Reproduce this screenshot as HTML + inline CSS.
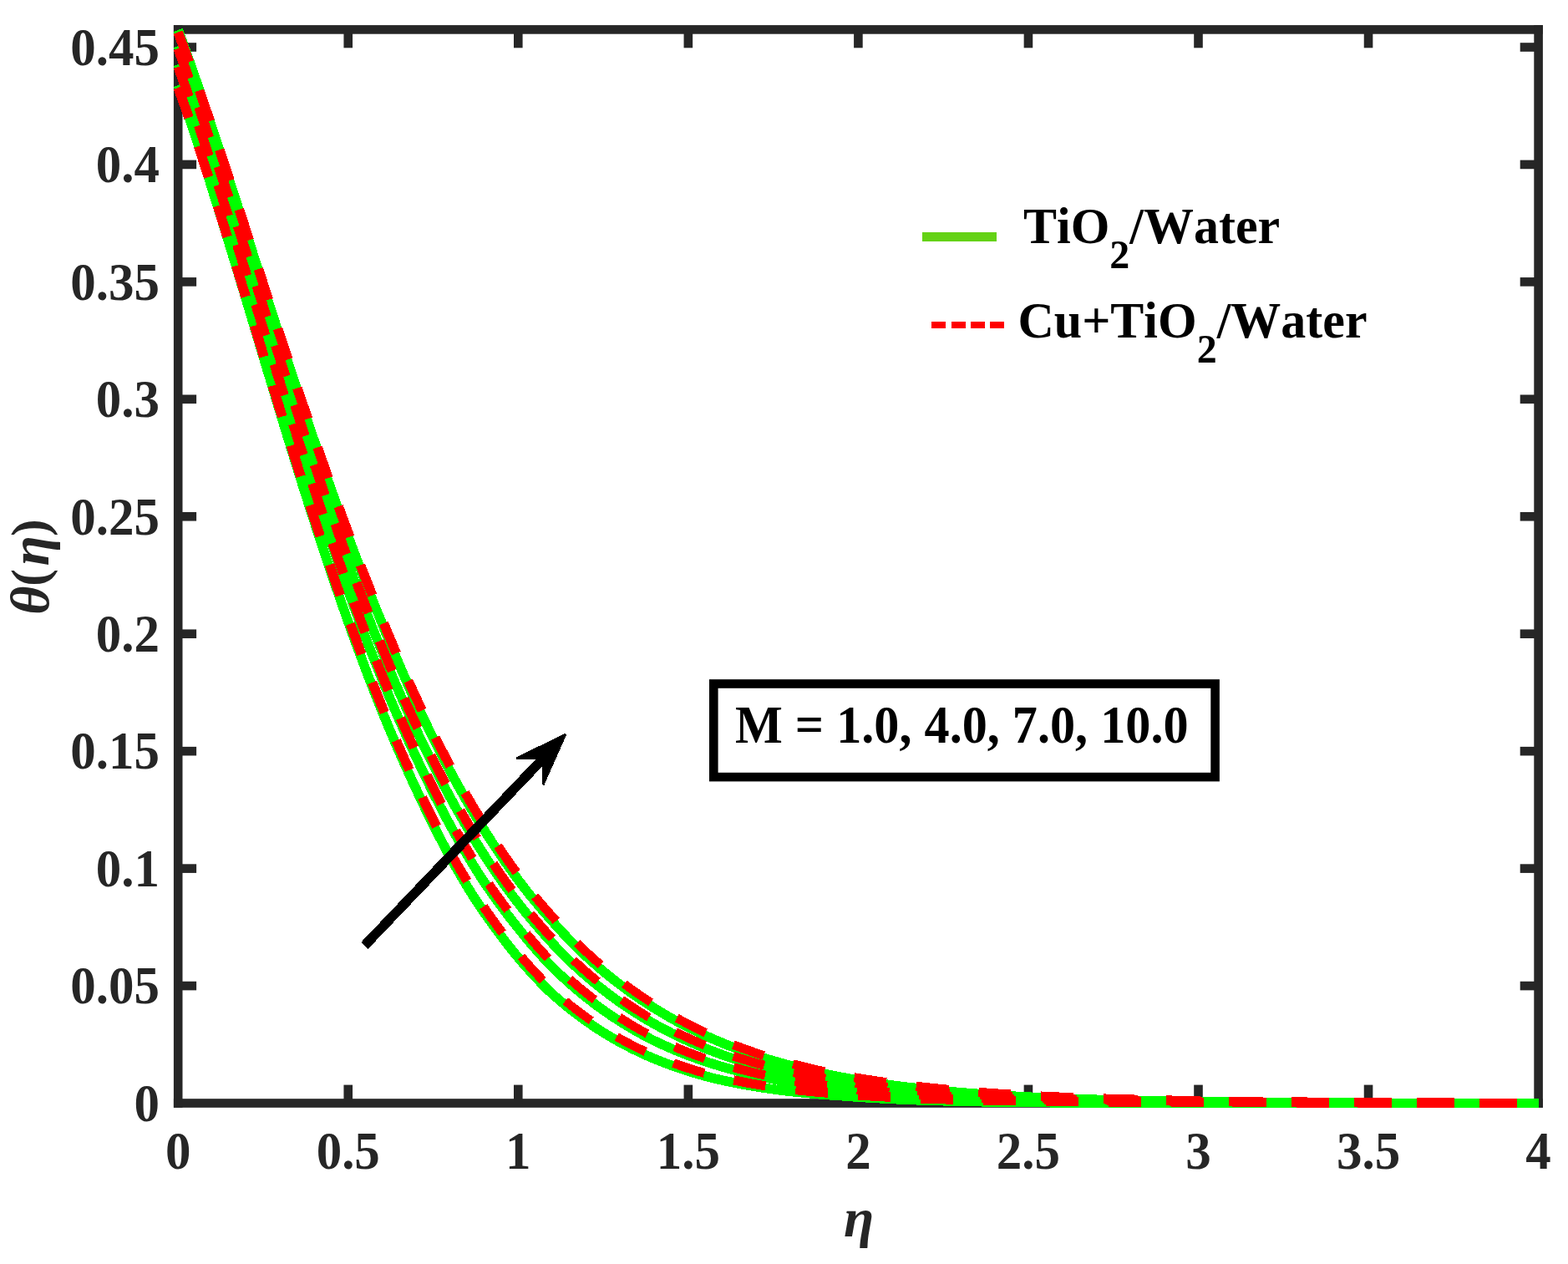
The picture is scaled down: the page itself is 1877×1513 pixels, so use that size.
<!DOCTYPE html>
<html lang="en"><head><meta charset="utf-8"><title>Temperature profile</title>
<style>html,body{margin:0;padding:0;background:#fff;}svg{display:block;}text{font-family:'Liberation Serif', 'Times New Roman', serif;font-weight:bold;font-kerning:none;}</style></head><body>
<svg width="1877" height="1513" viewBox="0 0 1877 1513">
<rect width="1877" height="1513" fill="#fff"/>
<defs><clipPath id="ax"><rect x="208" y="30" width="1639" height="1296"/></clipPath></defs>
<g fill="#262626">
<rect x="207.90" y="30.10" width="1639.00" height="10.60"/>
<rect x="207.90" y="1315.20" width="1639.00" height="10.60"/>
<rect x="207.90" y="30.10" width="10.60" height="1295.70"/>
<rect x="1836.30" y="30.10" width="10.60" height="1295.70"/>
<rect x="411.45" y="1298.60" width="10.60" height="21.90"/>
<rect x="411.45" y="35.40" width="10.60" height="21.90"/>
<rect x="615.00" y="1298.60" width="10.60" height="21.90"/>
<rect x="615.00" y="35.40" width="10.60" height="21.90"/>
<rect x="818.55" y="1298.60" width="10.60" height="21.90"/>
<rect x="818.55" y="35.40" width="10.60" height="21.90"/>
<rect x="1022.10" y="1298.60" width="10.60" height="21.90"/>
<rect x="1022.10" y="35.40" width="10.60" height="21.90"/>
<rect x="1225.65" y="1298.60" width="10.60" height="21.90"/>
<rect x="1225.65" y="35.40" width="10.60" height="21.90"/>
<rect x="1429.20" y="1298.60" width="10.60" height="21.90"/>
<rect x="1429.20" y="35.40" width="10.60" height="21.90"/>
<rect x="1632.75" y="1298.60" width="10.60" height="21.90"/>
<rect x="1632.75" y="35.40" width="10.60" height="21.90"/>
<rect x="213.20" y="1174.76" width="21.90" height="10.60"/>
<rect x="1819.70" y="1174.76" width="21.90" height="10.60"/>
<rect x="213.20" y="1034.31" width="21.90" height="10.60"/>
<rect x="1819.70" y="1034.31" width="21.90" height="10.60"/>
<rect x="213.20" y="893.87" width="21.90" height="10.60"/>
<rect x="1819.70" y="893.87" width="21.90" height="10.60"/>
<rect x="213.20" y="753.42" width="21.90" height="10.60"/>
<rect x="1819.70" y="753.42" width="21.90" height="10.60"/>
<rect x="213.20" y="612.98" width="21.90" height="10.60"/>
<rect x="1819.70" y="612.98" width="21.90" height="10.60"/>
<rect x="213.20" y="472.53" width="21.90" height="10.60"/>
<rect x="1819.70" y="472.53" width="21.90" height="10.60"/>
<rect x="213.20" y="332.09" width="21.90" height="10.60"/>
<rect x="1819.70" y="332.09" width="21.90" height="10.60"/>
<rect x="213.20" y="191.64" width="21.90" height="10.60"/>
<rect x="1819.70" y="191.64" width="21.90" height="10.60"/>
<rect x="213.20" y="51.20" width="21.90" height="10.60"/>
<rect x="1819.70" y="51.20" width="21.90" height="10.60"/>
</g>
<g fill="#262626" font-size="61.00">
<text transform="translate(191.00 1341.80) scale(1 1.045)" text-anchor="end">0</text>
<text transform="translate(191.00 1201.36) scale(1 1.045)" text-anchor="end">0.05</text>
<text transform="translate(191.00 1060.91) scale(1 1.045)" text-anchor="end">0.1</text>
<text transform="translate(191.00 920.47) scale(1 1.045)" text-anchor="end">0.15</text>
<text transform="translate(191.00 780.02) scale(1 1.045)" text-anchor="end">0.2</text>
<text transform="translate(191.00 639.58) scale(1 1.045)" text-anchor="end">0.25</text>
<text transform="translate(191.00 499.13) scale(1 1.045)" text-anchor="end">0.3</text>
<text transform="translate(191.00 358.69) scale(1 1.045)" text-anchor="end">0.35</text>
<text transform="translate(191.00 218.24) scale(1 1.045)" text-anchor="end">0.4</text>
<text transform="translate(191.00 77.80) scale(1 1.045)" text-anchor="end">0.45</text>
<text transform="translate(213.20 1399.00) scale(1 1.045)" text-anchor="middle">0</text>
<text transform="translate(416.75 1399.00) scale(1 1.045)" text-anchor="middle">0.5</text>
<text transform="translate(620.30 1399.00) scale(1 1.045)" text-anchor="middle">1</text>
<text transform="translate(823.85 1399.00) scale(1 1.045)" text-anchor="middle">1.5</text>
<text transform="translate(1027.40 1399.00) scale(1 1.045)" text-anchor="middle">2</text>
<text transform="translate(1230.95 1399.00) scale(1 1.045)" text-anchor="middle">2.5</text>
<text transform="translate(1434.50 1399.00) scale(1 1.045)" text-anchor="middle">3</text>
<text transform="translate(1638.05 1399.00) scale(1 1.045)" text-anchor="middle">3.5</text>
<text transform="translate(1841.60 1399.00) scale(1 1.045)" text-anchor="middle">4</text>
</g>
<text x="1028" y="1479.8" text-anchor="middle" font-size="66" font-style="italic" fill="#262626">η</text>
<text transform="translate(58.1 678) rotate(-90)" font-size="66" fill="#262626"><tspan x="-57.8" y="0" font-style="italic">θ</tspan><tspan x="-23.7" y="-2.6" font-size="62">(</tspan><tspan x="0.8" y="0" font-style="italic">η</tspan><tspan x="35.9" y="-2.6" font-size="62">)</tspan></text>
<g clip-path="url(#ax)" fill="none" shape-rendering="crispEdges">
<path d="M213.20 101.96 L214.61 106.00 L217.23 113.41 L219.85 120.92 L222.47 128.53 L225.09 136.24 L227.71 144.03 L230.34 151.92 L232.96 159.88 L235.58 167.93 L238.20 176.05 L240.81 184.25 L243.43 192.52 L246.05 200.86 L248.67 209.26 L251.29 217.72 L253.91 226.24 L256.62 234.78 L259.34 243.37 L262.05 252.02 L264.77 260.71 L267.48 269.44 L270.19 278.21 L272.91 287.02 L275.62 295.86 L278.34 304.73 L281.05 313.64 L283.76 322.56 L286.48 331.51 L289.19 340.48 L291.91 349.46 L294.62 358.46 L297.33 367.47 L300.05 376.49 L302.76 385.52 L305.48 394.55 L308.19 403.58 L310.90 412.61 L313.62 421.64 L316.33 430.67 L319.05 439.68 L321.76 448.69 L324.47 457.68 L327.19 466.66 L329.90 475.63 L332.62 484.57 L335.33 493.50 L338.04 502.41 L340.76 511.29 L343.47 520.14 L346.19 528.97 L348.90 537.77 L351.61 546.54 L354.33 555.27 L357.04 563.98 L359.76 572.64 L362.47 581.27 L365.18 589.86 L367.90 598.41 L370.61 606.92 L373.33 615.39 L376.04 623.81 L378.75 632.19 L381.47 640.53 L384.18 648.81 L386.90 657.05 L389.61 665.24 L392.32 673.37 L395.04 681.46 L397.75 689.49 L400.47 697.47 L403.18 705.40 L405.89 713.27 L408.61 721.08 L411.32 728.84 L414.04 736.54 L416.75 744.19 L419.46 751.77 L422.18 759.30 L424.89 766.76 L427.61 774.17 L430.32 781.51 L433.03 788.80 L435.75 796.02 L438.46 803.18 L441.18 810.28 L443.89 817.31 L446.60 824.29 L449.32 831.20 L452.03 838.04 L454.75 844.82 L457.46 851.54 L460.17 858.19 L462.89 864.78 L465.60 871.30 L468.32 877.76 L471.03 884.16 L473.74 890.49 L476.46 896.75 L479.17 902.96 L481.89 909.09 L484.60 915.16 L487.31 921.17 L490.03 927.11 L492.74 932.99 L495.46 938.80 L498.17 944.55 L500.81 950.27 L503.44 955.93 L506.08 961.53 L508.72 967.06 L511.35 972.53 L513.99 977.94 L516.63 983.28 L519.27 988.56 L521.91 993.79 L524.55 998.95 L527.19 1004.05 L529.83 1009.09 L532.47 1014.06 L535.11 1018.98 L537.75 1023.84 L540.40 1028.63 L543.05 1033.37 L545.71 1038.05 L548.36 1042.66 L551.01 1047.22 L553.67 1051.73 L556.32 1056.17 L558.98 1060.56 L561.63 1064.89 L564.29 1069.17 L566.96 1073.38 L569.66 1077.52 L572.35 1081.61 L575.05 1085.64 L577.74 1089.62 L580.43 1093.55 L583.13 1097.42 L585.83 1101.24 L588.52 1105.01 L591.22 1108.72 L593.92 1112.39 L596.61 1116.00 L599.29 1119.58 L601.96 1123.12 L604.62 1126.61 L607.28 1130.06 L609.95 1133.45 L612.61 1136.80 L615.28 1140.11 L617.95 1143.36 L620.62 1146.57 L623.29 1149.74 L625.96 1152.86 L628.63 1155.93 L631.30 1158.96 L633.97 1161.95 L636.65 1164.89 L639.32 1167.79 L642.00 1170.65 L644.68 1173.47 L647.36 1176.25 L650.04 1178.98 L652.72 1181.68 L655.40 1184.33 L658.09 1186.95 L660.84 1189.45 L663.59 1191.92 L666.34 1194.34 L669.10 1196.73 L671.85 1199.08 L674.60 1201.39 L677.35 1203.66 L680.10 1205.90 L682.86 1208.10 L685.61 1210.26 L688.36 1212.39 L691.11 1214.49 L693.86 1216.55 L696.61 1218.57 L699.37 1220.56 L702.12 1222.52 L704.87 1224.45 L707.62 1226.34 L710.37 1228.21 L713.12 1230.04 L715.87 1231.84 L718.62 1233.61 L721.37 1235.35 L724.12 1237.05 L726.87 1238.73 L729.62 1240.39 L732.37 1242.01 L735.11 1243.60 L737.86 1245.17 L740.61 1246.71 L743.36 1248.22 L746.10 1249.71 L748.85 1251.16 L751.60 1252.60 L754.34 1254.01 L757.09 1255.39 L759.84 1256.75 L762.58 1258.08 L765.33 1259.39 L768.07 1260.68 L770.82 1261.94 L773.56 1263.17 L776.31 1264.38 L779.06 1265.56 L781.80 1266.73 L784.55 1267.87 L787.29 1269.00 L790.04 1270.10 L792.78 1271.18 L795.53 1272.24 L798.27 1273.28 L801.01 1274.30 L803.75 1275.30 L806.50 1276.28 L809.24 1277.25 L811.98 1278.19 L814.72 1279.12 L817.46 1280.03 L820.20 1280.92 L822.93 1281.79 L825.67 1282.65 L828.41 1283.49 L831.15 1284.32 L833.89 1285.12 L836.62 1285.92 L839.36 1286.69 L842.09 1287.45 L844.83 1288.20 L847.56 1288.93 L850.30 1289.65 L853.03 1290.35 L855.76 1291.04 L858.51 1291.67 L861.25 1292.30 L863.99 1292.91 L866.73 1293.50 L869.47 1294.09 L872.21 1294.66 L874.94 1295.22 L877.68 1295.76 L880.42 1296.29 L883.15 1296.83 L885.88 1297.36 L888.61 1297.87 L891.35 1298.38 L894.08 1298.87 L896.81 1299.35 L899.54 1299.82 L902.26 1300.28 L904.99 1300.73 L907.72 1301.17 L910.45 1301.60 L913.18 1302.02 L915.90 1302.43 L918.63 1302.83 L921.36 1303.22 L924.08 1303.60 L926.81 1303.98 L929.53 1304.34 L932.26 1304.70 L934.98 1305.04 L937.70 1305.38 L940.43 1305.72 L943.15 1306.04 L945.87 1306.35 L948.60 1306.66 L951.32 1306.96 L954.04 1307.26 L956.76 1307.54 L959.48 1307.82 L962.21 1308.09 L964.93 1308.36 L967.65 1308.62 L970.37 1308.87 L973.09 1309.11 L975.81 1309.35 L978.53 1309.59 L981.25 1309.81 L983.96 1310.03 L986.68 1310.25 L989.40 1310.46 L992.12 1310.66 L994.84 1310.86 L997.56 1311.05 L1000.28 1311.24 L1002.99 1311.42 L1005.71 1311.59 L1008.43 1311.79 L1011.14 1312.00 L1013.85 1312.21 L1016.57 1312.42 L1019.28 1312.62 L1021.99 1312.82 L1024.71 1313.01 L1027.42 1313.20 L1030.13 1313.38 L1032.85 1313.56 L1035.56 1313.73 L1038.27 1313.90 L1040.99 1314.07 L1043.70 1314.23 L1046.42 1314.39 L1049.13 1314.55 L1051.84 1314.70 L1054.56 1314.85 L1057.27 1314.99 L1059.98 1315.13 L1062.70 1315.27 L1065.41 1315.40 L1068.12 1315.54 L1070.84 1315.66 L1073.55 1315.79 L1076.27 1315.91 L1078.98 1316.03 L1081.69 1316.15 L1084.41 1316.26 L1087.12 1316.37 L1089.83 1316.48 L1092.55 1316.58 L1095.26 1316.68 L1097.97 1316.78 L1100.69 1316.88 L1103.40 1316.98 L1106.12 1317.07 L1108.83 1317.16 L1111.54 1317.25 L1114.26 1317.33 L1116.97 1317.42 L1119.68 1317.50 L1122.40 1317.58 L1125.11 1317.65 L1127.83 1317.73 L1130.54 1317.80 L1133.25 1317.87 L1135.97 1317.94 L1138.68 1318.01 L1141.40 1318.08 L1144.11 1318.14 L1146.82 1318.20 L1149.54 1318.26 L1152.25 1318.32 L1154.96 1318.38 L1157.68 1318.44 L1160.39 1318.49 L1163.11 1318.54 L1165.82 1318.60 L1168.53 1318.65 L1171.25 1318.69 L1173.96 1318.74 L1176.68 1318.79 L1179.39 1318.83 L1182.10 1318.88 L1184.82 1318.92 L1187.53 1318.96 L1190.24 1319.00 L1192.96 1319.04 L1195.67 1319.08 L1198.39 1319.12 L1201.10 1319.16 L1203.81 1319.20 L1206.53 1319.24 L1209.24 1319.27 L1211.96 1319.31 L1214.67 1319.34 L1217.38 1319.37 L1220.10 1319.41 L1222.81 1319.44 L1225.52 1319.47 L1228.24 1319.50 L1230.95 1319.53 L1233.67 1319.55 L1236.38 1319.58 L1239.09 1319.61 L1241.81 1319.63 L1244.52 1319.66 L1247.24 1319.68 L1249.95 1319.71 L1252.66 1319.73 L1255.38 1319.75 L1258.09 1319.78 L1260.81 1319.80 L1263.52 1319.82 L1266.23 1319.84 L1268.95 1319.86 L1271.66 1319.88 L1274.38 1319.90 L1277.09 1319.91 L1279.80 1319.93 L1282.52 1319.95 L1285.23 1319.97 L1287.94 1319.98 L1290.66 1320.00 L1293.37 1320.01 L1296.09 1320.03 L1298.80 1320.04 L1301.51 1320.06 L1304.23 1320.07 L1306.94 1320.09 L1309.66 1320.10 L1312.37 1320.11 L1315.08 1320.12 L1317.80 1320.14 L1320.51 1320.15 L1323.23 1320.16 L1325.94 1320.17 L1328.65 1320.18 L1331.37 1320.19 L1334.08 1320.20 L1336.80 1320.21 L1339.51 1320.22 L1342.22 1320.23 L1344.94 1320.24 L1347.65 1320.25 L1350.37 1320.26 L1353.08 1320.27 L1355.79 1320.28 L1358.51 1320.29 L1361.22 1320.30 L1363.94 1320.30 L1366.65 1320.31 L1369.36 1320.32 L1372.08 1320.33 L1374.79 1320.34 L1377.51 1320.34 L1380.22 1320.35 L1382.93 1320.36 L1385.65 1320.36 L1388.36 1320.37 L1391.08 1320.38 L1393.79 1320.38 L1396.50 1320.39 L1399.22 1320.40 L1401.93 1320.40 L1404.65 1320.41 L1407.36 1320.41 L1410.07 1320.42 L1412.79 1320.42 L1415.50 1320.43 L1418.22 1320.44 L1420.93 1320.44 L1423.64 1320.45 L1426.36 1320.45 L1429.07 1320.46 L1431.79 1320.46 L1434.50 1320.47 L1437.21 1320.47 L1439.93 1320.47 L1442.64 1320.47 L1445.36 1320.47 L1448.07 1320.47 L1450.78 1320.48 L1453.50 1320.48 L1456.21 1320.48 L1458.93 1320.48 L1461.64 1320.48 L1464.35 1320.48 L1467.07 1320.48 L1469.78 1320.48 L1472.50 1320.48 L1475.21 1320.48 L1477.92 1320.49 L1480.64 1320.49 L1483.35 1320.49 L1486.07 1320.49 L1488.78 1320.49 L1491.49 1320.49 L1494.21 1320.49 L1496.92 1320.49 L1499.64 1320.49 L1502.35 1320.49 L1505.06 1320.49 L1507.78 1320.49 L1510.49 1320.49 L1513.21 1320.49 L1515.92 1320.49 L1518.63 1320.49 L1521.35 1320.49 L1524.06 1320.49 L1526.78 1320.49 L1529.49 1320.49 L1532.20 1320.50 L1534.92 1320.50 L1537.63 1320.50 L1540.35 1320.50 L1543.06 1320.50 L1545.77 1320.50 L1548.49 1320.50 L1551.20 1320.50 L1553.92 1320.50 L1556.63 1320.50 L1559.34 1320.50 L1562.06 1320.50 L1564.77 1320.50 L1567.49 1320.50 L1570.20 1320.50 L1572.91 1320.50 L1575.63 1320.50 L1578.34 1320.50 L1581.06 1320.50 L1583.77 1320.50 L1586.48 1320.50 L1589.20 1320.50 L1591.91 1320.50 L1594.63 1320.50 L1597.34 1320.50 L1600.05 1320.50 L1602.77 1320.50 L1605.48 1320.50 L1608.20 1320.50 L1610.91 1320.50 L1613.62 1320.50 L1616.34 1320.50 L1619.05 1320.50 L1621.77 1320.50 L1624.48 1320.50 L1627.19 1320.50 L1629.91 1320.50 L1632.62 1320.50 L1635.34 1320.50 L1638.05 1320.50 L1640.76 1320.50 L1643.48 1320.50 L1646.19 1320.50 L1648.91 1320.50 L1651.62 1320.50 L1654.33 1320.50 L1657.05 1320.50 L1659.76 1320.50 L1662.48 1320.50 L1665.19 1320.50 L1667.90 1320.50 L1670.62 1320.50 L1673.33 1320.50 L1676.05 1320.50 L1678.76 1320.50 L1681.47 1320.50 L1684.19 1320.50 L1686.90 1320.50 L1689.62 1320.50 L1692.33 1320.50 L1695.04 1320.50 L1697.76 1320.50 L1700.47 1320.50 L1703.19 1320.50 L1705.90 1320.50 L1708.61 1320.50 L1711.33 1320.50 L1714.04 1320.50 L1716.76 1320.50 L1719.47 1320.50 L1722.18 1320.50 L1724.90 1320.50 L1727.61 1320.50 L1730.33 1320.50 L1733.04 1320.50 L1735.75 1320.50 L1738.47 1320.50 L1741.18 1320.50 L1743.90 1320.50 L1746.61 1320.50 L1749.32 1320.50 L1752.04 1320.50 L1754.75 1320.50 L1757.47 1320.50 L1760.18 1320.50 L1762.89 1320.50 L1765.61 1320.50 L1768.32 1320.50 L1771.04 1320.50 L1773.75 1320.50 L1776.46 1320.50 L1779.18 1320.50 L1781.89 1320.50 L1784.61 1320.50 L1787.32 1320.50 L1790.03 1320.50 L1792.75 1320.50 L1795.46 1320.50 L1798.18 1320.50 L1800.89 1320.50 L1803.60 1320.50 L1806.32 1320.50 L1809.03 1320.50 L1811.75 1320.50 L1814.46 1320.50 L1817.17 1320.50 L1819.89 1320.50 L1822.60 1320.50 L1825.32 1320.50 L1828.03 1320.50 L1830.74 1320.50 L1833.46 1320.50 L1836.17 1320.50 L1838.89 1320.50 L1841.60 1320.50" stroke="#00ff00" stroke-width="11.50"/>
<path d="M213.20 77.15 L214.42 80.62 L217.05 88.01 L219.69 95.49 L222.32 103.06 L224.95 110.71 L227.59 118.44 L230.22 126.26 L232.85 134.14 L235.49 142.10 L238.12 150.13 L240.75 158.22 L243.38 166.37 L246.01 174.59 L248.65 182.86 L251.28 191.18 L253.91 199.56 L256.62 207.96 L259.34 216.40 L262.05 224.89 L264.77 233.42 L267.48 241.98 L270.19 250.58 L272.91 259.22 L275.62 267.88 L278.34 276.57 L281.05 285.28 L283.76 294.02 L286.48 302.77 L289.19 311.54 L291.91 320.33 L294.62 329.12 L297.33 337.93 L300.05 346.75 L302.76 355.57 L305.48 364.39 L308.19 373.21 L310.90 382.04 L313.62 390.86 L316.33 399.67 L319.05 408.48 L321.76 417.27 L324.47 426.06 L327.19 434.83 L329.90 443.59 L332.62 452.33 L335.33 461.05 L338.04 469.75 L340.76 478.43 L343.47 487.08 L346.19 495.71 L348.90 504.32 L351.61 512.89 L354.33 521.44 L357.04 529.95 L359.76 538.43 L362.47 546.88 L365.18 555.29 L367.90 563.66 L370.61 572.00 L373.33 580.30 L376.04 588.55 L378.75 596.77 L381.47 604.94 L384.18 613.07 L386.90 621.16 L389.61 629.20 L392.32 637.19 L395.04 645.14 L397.75 653.04 L400.47 660.88 L403.18 668.68 L405.89 676.43 L408.61 684.13 L411.32 691.77 L414.04 699.37 L416.75 706.91 L419.46 714.39 L422.18 721.82 L424.89 729.20 L427.61 736.52 L430.32 743.78 L433.03 750.99 L435.75 758.14 L438.46 765.23 L441.18 772.27 L443.89 779.25 L446.60 786.17 L449.32 793.03 L452.03 799.83 L454.75 806.57 L457.46 813.26 L460.17 819.88 L462.89 826.44 L465.60 832.95 L468.32 839.39 L471.03 845.78 L473.74 852.10 L476.46 858.37 L479.17 864.57 L481.89 870.72 L484.60 876.80 L487.31 882.82 L490.03 888.79 L492.74 894.69 L495.46 900.53 L498.17 906.32 L500.83 912.06 L503.50 917.75 L506.16 923.38 L508.82 928.95 L511.49 934.46 L514.15 939.91 L516.81 945.31 L519.48 950.64 L522.14 955.92 L524.81 961.14 L527.47 966.30 L530.14 971.40 L532.80 976.45 L535.47 981.44 L538.14 986.38 L540.80 991.25 L543.47 996.08 L546.14 1000.84 L548.81 1005.55 L551.47 1010.21 L554.14 1014.81 L556.81 1019.36 L559.48 1023.85 L562.15 1028.29 L564.82 1032.68 L567.49 1037.01 L570.16 1041.29 L572.83 1045.52 L575.50 1049.70 L578.18 1053.82 L580.90 1057.87 L583.62 1061.86 L586.34 1065.80 L589.06 1069.69 L591.78 1073.53 L594.50 1077.32 L597.22 1081.07 L599.94 1084.76 L602.66 1088.41 L605.38 1092.01 L608.10 1095.56 L610.82 1099.06 L613.54 1102.52 L616.26 1105.93 L618.98 1109.29 L621.64 1112.66 L624.30 1115.99 L626.96 1119.28 L629.62 1122.52 L632.29 1125.71 L634.95 1128.87 L637.62 1131.98 L640.28 1135.05 L642.95 1138.09 L645.61 1141.08 L648.28 1144.03 L650.95 1146.94 L653.62 1149.81 L656.29 1152.64 L658.96 1155.44 L661.68 1158.14 L664.41 1160.81 L667.13 1163.44 L669.85 1166.04 L672.57 1168.59 L675.29 1171.11 L678.02 1173.60 L680.74 1176.05 L683.46 1178.46 L686.18 1180.84 L688.91 1183.18 L691.63 1185.49 L694.36 1187.76 L697.08 1190.00 L699.80 1192.21 L702.53 1194.39 L705.25 1196.53 L707.98 1198.65 L710.70 1200.73 L713.43 1202.78 L716.16 1204.80 L718.88 1206.79 L721.61 1208.75 L724.33 1210.67 L727.06 1212.58 L729.79 1214.45 L732.51 1216.29 L735.24 1218.11 L737.97 1219.89 L740.70 1221.65 L743.42 1223.39 L746.15 1225.10 L748.88 1226.78 L751.61 1228.43 L754.33 1230.06 L757.06 1231.66 L759.79 1233.24 L762.52 1234.80 L765.25 1236.33 L767.97 1237.84 L770.70 1239.32 L773.43 1240.78 L776.16 1242.22 L778.89 1243.63 L781.62 1245.02 L784.36 1246.35 L787.11 1247.67 L789.86 1248.95 L792.60 1250.22 L795.35 1251.47 L798.09 1252.70 L800.84 1253.90 L803.58 1255.09 L806.32 1256.25 L809.07 1257.40 L811.81 1258.53 L814.55 1259.63 L817.29 1260.72 L820.03 1261.79 L822.77 1262.85 L825.51 1263.88 L828.25 1264.90 L830.99 1265.90 L833.73 1266.88 L836.47 1267.85 L839.21 1268.80 L841.95 1269.73 L844.68 1270.65 L847.42 1271.55 L850.16 1272.44 L852.89 1273.31 L855.63 1274.16 L858.36 1275.00 L861.10 1275.83 L863.83 1276.64 L866.57 1277.44 L869.30 1278.22 L872.03 1278.99 L874.77 1279.75 L877.50 1280.49 L880.23 1281.22 L882.96 1281.95 L885.69 1282.66 L888.42 1283.37 L891.14 1284.06 L893.87 1284.74 L896.60 1285.40 L899.33 1286.06 L902.05 1286.70 L904.78 1287.33 L907.50 1287.95 L910.23 1288.56 L912.96 1289.16 L915.68 1289.75 L918.41 1290.33 L921.13 1290.90 L923.86 1291.46 L926.58 1292.00 L929.31 1292.54 L932.03 1293.07 L934.75 1293.59 L937.48 1294.10 L940.20 1294.60 L942.92 1295.09 L945.65 1295.57 L948.37 1296.04 L951.09 1296.51 L953.82 1296.96 L956.54 1297.41 L959.26 1297.85 L961.98 1298.28 L964.70 1298.71 L967.42 1299.12 L970.15 1299.53 L972.87 1299.93 L975.59 1300.33 L978.31 1300.71 L981.03 1301.09 L983.75 1301.46 L986.47 1301.83 L989.19 1302.19 L991.91 1302.54 L994.63 1302.88 L997.35 1303.22 L1000.07 1303.55 L1002.79 1303.88 L1005.51 1304.20 L1008.23 1304.51 L1010.95 1304.82 L1013.67 1305.12 L1016.39 1305.42 L1019.11 1305.71 L1021.83 1305.99 L1024.54 1306.27 L1027.26 1306.55 L1029.98 1306.82 L1032.70 1307.09 L1035.41 1307.36 L1038.13 1307.62 L1040.85 1307.88 L1043.57 1308.13 L1046.28 1308.38 L1049.00 1308.62 L1051.72 1308.86 L1054.43 1309.09 L1057.15 1309.32 L1059.87 1309.54 L1062.58 1309.76 L1065.30 1309.98 L1068.02 1310.19 L1070.73 1310.40 L1073.45 1310.60 L1076.17 1310.80 L1078.88 1310.99 L1081.60 1311.19 L1084.32 1311.37 L1087.03 1311.56 L1089.75 1311.74 L1092.46 1311.92 L1095.18 1312.09 L1097.90 1312.26 L1100.61 1312.43 L1103.33 1312.59 L1106.04 1312.75 L1108.76 1312.91 L1111.48 1313.07 L1114.19 1313.22 L1116.91 1313.37 L1119.62 1313.51 L1122.34 1313.65 L1125.05 1313.79 L1127.77 1313.93 L1130.48 1314.07 L1133.20 1314.20 L1135.92 1314.33 L1138.63 1314.45 L1141.35 1314.58 L1144.06 1314.70 L1146.78 1314.82 L1149.49 1314.93 L1152.21 1315.05 L1154.92 1315.16 L1157.64 1315.27 L1160.35 1315.37 L1163.07 1315.48 L1165.78 1315.58 L1168.50 1315.68 L1171.21 1315.78 L1173.93 1315.88 L1176.64 1315.97 L1179.36 1316.06 L1182.07 1316.16 L1184.79 1316.24 L1187.50 1316.33 L1190.22 1316.42 L1192.93 1316.50 L1195.65 1316.58 L1198.36 1316.66 L1201.08 1316.74 L1203.79 1316.81 L1206.51 1316.89 L1209.22 1316.96 L1211.93 1317.03 L1214.65 1317.10 L1217.36 1317.17 L1220.08 1317.24 L1222.79 1317.30 L1225.51 1317.37 L1228.22 1317.43 L1230.94 1317.49 L1233.65 1317.55 L1236.37 1317.62 L1239.08 1317.68 L1241.79 1317.74 L1244.51 1317.80 L1247.22 1317.85 L1249.94 1317.91 L1252.65 1317.96 L1255.37 1318.02 L1258.08 1318.07 L1260.79 1318.12 L1263.51 1318.17 L1266.22 1318.22 L1268.94 1318.27 L1271.65 1318.32 L1274.37 1318.36 L1277.08 1318.41 L1279.79 1318.45 L1282.51 1318.50 L1285.22 1318.54 L1287.94 1318.58 L1290.65 1318.62 L1293.37 1318.66 L1296.08 1318.70 L1298.79 1318.74 L1301.51 1318.77 L1304.22 1318.81 L1306.94 1318.84 L1309.65 1318.88 L1312.37 1318.91 L1315.08 1318.94 L1317.79 1318.98 L1320.51 1319.01 L1323.22 1319.04 L1325.94 1319.07 L1328.65 1319.10 L1331.36 1319.12 L1334.08 1319.15 L1336.79 1319.18 L1339.51 1319.21 L1342.22 1319.23 L1344.94 1319.26 L1347.65 1319.28 L1350.36 1319.31 L1353.08 1319.33 L1355.79 1319.35 L1358.51 1319.37 L1361.22 1319.39 L1363.93 1319.42 L1366.65 1319.44 L1369.36 1319.46 L1372.08 1319.48 L1374.79 1319.49 L1377.50 1319.51 L1380.22 1319.53 L1382.93 1319.55 L1385.65 1319.57 L1388.36 1319.58 L1391.08 1319.60 L1393.79 1319.61 L1396.50 1319.63 L1399.22 1319.64 L1401.93 1319.66 L1404.65 1319.67 L1407.36 1319.68 L1410.07 1319.70 L1412.79 1319.71 L1415.50 1319.72 L1418.22 1319.73 L1420.93 1319.75 L1423.64 1319.76 L1426.36 1319.77 L1429.07 1319.78 L1431.79 1319.79 L1434.50 1319.80 L1437.21 1319.81 L1439.93 1319.83 L1442.64 1319.85 L1445.36 1319.86 L1448.07 1319.88 L1450.78 1319.89 L1453.50 1319.90 L1456.21 1319.92 L1458.93 1319.93 L1461.64 1319.95 L1464.35 1319.96 L1467.07 1319.97 L1469.78 1319.98 L1472.50 1320.00 L1475.21 1320.01 L1477.92 1320.02 L1480.64 1320.03 L1483.35 1320.04 L1486.07 1320.05 L1488.78 1320.06 L1491.49 1320.07 L1494.21 1320.09 L1496.92 1320.10 L1499.64 1320.11 L1502.35 1320.12 L1505.06 1320.12 L1507.78 1320.13 L1510.49 1320.14 L1513.21 1320.15 L1515.92 1320.16 L1518.63 1320.17 L1521.35 1320.18 L1524.06 1320.19 L1526.78 1320.19 L1529.49 1320.20 L1532.20 1320.21 L1534.92 1320.22 L1537.63 1320.22 L1540.35 1320.23 L1543.06 1320.24 L1545.77 1320.24 L1548.49 1320.25 L1551.20 1320.26 L1553.92 1320.26 L1556.63 1320.27 L1559.34 1320.28 L1562.06 1320.28 L1564.77 1320.29 L1567.49 1320.29 L1570.20 1320.30 L1572.91 1320.30 L1575.63 1320.31 L1578.34 1320.32 L1581.06 1320.32 L1583.77 1320.33 L1586.48 1320.33 L1589.20 1320.33 L1591.91 1320.34 L1594.63 1320.34 L1597.34 1320.35 L1600.05 1320.35 L1602.77 1320.36 L1605.48 1320.36 L1608.20 1320.36 L1610.91 1320.37 L1613.62 1320.37 L1616.34 1320.38 L1619.05 1320.38 L1621.77 1320.38 L1624.48 1320.39 L1627.19 1320.39 L1629.91 1320.39 L1632.62 1320.40 L1635.34 1320.40 L1638.05 1320.40 L1640.76 1320.40 L1643.48 1320.41 L1646.19 1320.41 L1648.91 1320.41 L1651.62 1320.42 L1654.33 1320.42 L1657.05 1320.42 L1659.76 1320.42 L1662.48 1320.43 L1665.19 1320.43 L1667.90 1320.43 L1670.62 1320.43 L1673.33 1320.43 L1676.05 1320.44 L1678.76 1320.44 L1681.47 1320.44 L1684.19 1320.44 L1686.90 1320.44 L1689.62 1320.45 L1692.33 1320.45 L1695.04 1320.45 L1697.76 1320.45 L1700.47 1320.45 L1703.19 1320.45 L1705.90 1320.46 L1708.61 1320.46 L1711.33 1320.46 L1714.04 1320.46 L1716.76 1320.46 L1719.47 1320.46 L1722.18 1320.46 L1724.90 1320.47 L1727.61 1320.47 L1730.33 1320.47 L1733.04 1320.47 L1735.75 1320.47 L1738.47 1320.47 L1741.18 1320.47 L1743.90 1320.47 L1746.61 1320.47 L1749.32 1320.47 L1752.04 1320.48 L1754.75 1320.48 L1757.47 1320.48 L1760.18 1320.48 L1762.89 1320.48 L1765.61 1320.48 L1768.32 1320.48 L1771.04 1320.48 L1773.75 1320.48 L1776.46 1320.48 L1779.18 1320.48 L1781.89 1320.48 L1784.61 1320.48 L1787.32 1320.48 L1790.03 1320.49 L1792.75 1320.49 L1795.46 1320.49 L1798.18 1320.49 L1800.89 1320.49 L1803.60 1320.49 L1806.32 1320.49 L1809.03 1320.49 L1811.75 1320.49 L1814.46 1320.49 L1817.17 1320.49 L1819.89 1320.49 L1822.60 1320.49 L1825.32 1320.49 L1828.03 1320.49 L1830.74 1320.49 L1833.46 1320.49 L1836.17 1320.49 L1838.89 1320.49 L1841.60 1320.49" stroke="#00ff00" stroke-width="11.50"/>
<path d="M213.20 55.20 L214.42 58.65 L217.05 66.03 L219.69 73.49 L222.32 81.03 L224.95 88.64 L227.59 96.32 L230.22 104.08 L232.85 111.90 L235.49 119.78 L238.12 127.73 L240.75 135.73 L243.38 143.79 L246.01 151.91 L248.65 160.07 L251.28 168.28 L253.91 176.54 L256.62 184.81 L259.34 193.13 L262.05 201.48 L264.77 209.87 L267.48 218.29 L270.19 226.74 L272.91 235.22 L275.62 243.73 L278.34 252.26 L281.05 260.81 L283.76 269.38 L286.48 277.97 L289.19 286.57 L291.91 295.18 L294.62 303.80 L297.33 312.44 L300.05 321.07 L302.76 329.72 L305.48 338.36 L308.19 347.01 L310.90 355.65 L313.62 364.29 L316.33 372.92 L319.05 381.54 L321.76 390.16 L324.47 398.77 L327.19 407.36 L329.90 415.94 L332.62 424.50 L335.33 433.04 L338.04 441.57 L340.76 450.07 L343.47 458.55 L346.19 467.01 L348.90 475.45 L351.61 483.86 L354.33 492.23 L357.04 500.59 L359.76 508.91 L362.47 517.19 L365.18 525.45 L367.90 533.67 L370.61 541.86 L373.33 550.01 L376.04 558.12 L378.75 566.20 L381.47 574.23 L384.18 582.23 L386.90 590.18 L389.61 598.10 L392.32 605.97 L395.04 613.79 L397.75 621.57 L400.47 629.31 L403.18 637.00 L405.89 644.64 L408.61 652.24 L411.32 659.78 L414.04 667.28 L416.75 674.73 L419.46 682.13 L422.18 689.48 L424.89 696.78 L427.61 704.02 L430.32 711.22 L433.03 718.36 L435.75 725.45 L438.46 732.48 L441.18 739.47 L443.89 746.39 L446.60 753.27 L449.32 760.09 L452.03 766.85 L454.75 773.56 L457.46 780.22 L460.17 786.82 L462.89 793.36 L465.60 799.85 L468.32 806.28 L471.03 812.66 L473.74 818.98 L476.46 825.24 L479.17 831.45 L481.89 837.60 L484.60 843.69 L487.31 849.73 L490.03 855.71 L492.74 861.64 L495.46 867.51 L498.17 873.32 L500.86 879.08 L503.56 884.79 L506.25 890.45 L508.95 896.05 L511.64 901.59 L514.34 907.07 L517.03 912.51 L519.73 917.88 L522.43 923.20 L525.12 928.47 L527.82 933.68 L530.51 938.84 L533.21 943.94 L535.90 948.99 L538.60 953.98 L541.30 958.92 L543.99 963.81 L546.69 968.65 L549.38 973.43 L552.08 978.16 L554.78 982.83 L557.47 987.46 L560.17 992.03 L562.87 996.55 L565.57 1001.02 L568.26 1005.44 L570.96 1009.81 L573.66 1014.13 L576.36 1018.40 L579.05 1022.62 L581.75 1026.79 L584.45 1030.91 L587.15 1034.99 L589.85 1039.01 L592.55 1042.99 L595.24 1046.92 L597.94 1050.80 L600.65 1054.64 L603.36 1058.42 L606.07 1062.15 L608.78 1065.85 L611.49 1069.49 L614.21 1073.09 L616.92 1076.65 L619.63 1080.16 L622.34 1083.62 L625.05 1087.05 L627.77 1090.43 L630.48 1093.77 L633.19 1097.06 L635.90 1100.32 L638.62 1103.53 L641.32 1106.71 L644.00 1109.87 L646.69 1112.98 L649.38 1116.05 L652.07 1119.09 L654.76 1122.08 L657.45 1125.04 L660.14 1127.96 L662.83 1130.84 L665.52 1133.69 L668.21 1136.49 L670.90 1139.26 L673.60 1142.00 L676.29 1144.70 L678.98 1147.36 L681.68 1149.98 L684.40 1152.55 L687.11 1155.09 L689.82 1157.60 L692.54 1160.07 L695.25 1162.51 L697.96 1164.92 L700.68 1167.29 L703.39 1169.63 L706.10 1171.94 L708.82 1174.22 L711.53 1176.46 L714.25 1178.68 L716.96 1180.86 L719.67 1183.02 L722.39 1185.14 L725.11 1187.24 L727.82 1189.31 L730.54 1191.34 L733.25 1193.35 L735.97 1195.33 L738.68 1197.29 L741.40 1199.21 L744.12 1201.11 L746.83 1202.99 L749.55 1204.83 L752.27 1206.65 L754.98 1208.45 L757.70 1210.21 L760.42 1211.96 L763.13 1213.68 L765.85 1215.37 L768.57 1217.04 L771.29 1218.69 L774.01 1220.31 L776.72 1221.91 L779.44 1223.49 L782.16 1225.04 L784.88 1226.57 L787.60 1228.07 L790.32 1229.56 L793.04 1231.02 L795.77 1232.46 L798.49 1233.88 L801.21 1235.27 L803.93 1236.65 L806.65 1238.01 L809.37 1239.35 L812.09 1240.67 L814.81 1241.96 L817.54 1243.24 L820.26 1244.50 L822.98 1245.75 L825.70 1246.97 L828.42 1248.18 L831.14 1249.36 L833.86 1250.53 L836.59 1251.69 L839.31 1252.82 L842.03 1253.94 L844.75 1255.04 L847.47 1256.13 L850.19 1257.20 L852.92 1258.25 L855.64 1259.29 L858.36 1260.31 L861.08 1261.32 L863.80 1262.31 L866.52 1263.29 L869.24 1264.25 L871.97 1265.19 L874.69 1266.13 L877.41 1267.05 L880.13 1267.95 L882.86 1268.82 L885.59 1269.67 L888.32 1270.51 L891.05 1271.33 L893.77 1272.15 L896.50 1272.95 L899.23 1273.73 L901.96 1274.51 L904.69 1275.27 L907.41 1276.02 L910.14 1276.76 L912.87 1277.49 L915.59 1278.20 L918.32 1278.91 L921.05 1279.60 L923.77 1280.28 L926.50 1280.95 L929.22 1281.61 L931.95 1282.26 L934.67 1282.90 L937.40 1283.53 L940.12 1284.15 L942.85 1284.76 L945.57 1285.36 L948.30 1285.95 L951.02 1286.53 L953.74 1287.10 L956.47 1287.66 L959.19 1288.21 L961.91 1288.75 L964.64 1289.29 L967.36 1289.81 L970.08 1290.33 L972.80 1290.84 L975.53 1291.34 L978.25 1291.83 L980.97 1292.32 L983.69 1292.79 L986.41 1293.26 L989.14 1293.72 L991.86 1294.18 L994.58 1294.62 L997.30 1295.06 L1000.02 1295.49 L1002.74 1295.91 L1005.46 1296.33 L1008.18 1296.74 L1010.90 1297.14 L1013.62 1297.54 L1016.34 1297.93 L1019.06 1298.31 L1021.78 1298.69 L1024.50 1299.06 L1027.22 1299.43 L1029.94 1299.79 L1032.66 1300.15 L1035.37 1300.51 L1038.09 1300.86 L1040.81 1301.20 L1043.53 1301.54 L1046.25 1301.87 L1048.96 1302.19 L1051.68 1302.52 L1054.40 1302.83 L1057.12 1303.14 L1059.83 1303.45 L1062.55 1303.75 L1065.27 1304.04 L1067.99 1304.33 L1070.70 1304.62 L1073.42 1304.90 L1076.14 1305.17 L1078.85 1305.44 L1081.57 1305.71 L1084.29 1305.97 L1087.00 1306.23 L1089.72 1306.48 L1092.44 1306.73 L1095.15 1306.98 L1097.87 1307.22 L1100.59 1307.46 L1103.30 1307.69 L1106.02 1307.92 L1108.74 1308.14 L1111.45 1308.36 L1114.17 1308.58 L1116.88 1308.80 L1119.60 1309.01 L1122.32 1309.21 L1125.03 1309.41 L1127.75 1309.61 L1130.46 1309.81 L1133.18 1310.00 L1135.90 1310.19 L1138.61 1310.38 L1141.33 1310.56 L1144.04 1310.74 L1146.76 1310.92 L1149.47 1311.09 L1152.19 1311.26 L1154.91 1311.43 L1157.62 1311.59 L1160.34 1311.76 L1163.05 1311.91 L1165.77 1312.07 L1168.48 1312.22 L1171.20 1312.37 L1173.91 1312.52 L1176.63 1312.67 L1179.34 1312.81 L1182.06 1312.95 L1184.78 1313.09 L1187.49 1313.22 L1190.21 1313.36 L1192.92 1313.49 L1195.64 1313.62 L1198.35 1313.74 L1201.07 1313.87 L1203.78 1313.99 L1206.50 1314.11 L1209.21 1314.22 L1211.93 1314.34 L1214.64 1314.45 L1217.36 1314.56 L1220.07 1314.67 L1222.79 1314.78 L1225.50 1314.88 L1228.21 1314.99 L1230.93 1315.09 L1233.64 1315.19 L1236.36 1315.29 L1239.07 1315.39 L1241.79 1315.49 L1244.50 1315.58 L1247.22 1315.68 L1249.93 1315.77 L1252.65 1315.86 L1255.36 1315.95 L1258.08 1316.04 L1260.79 1316.12 L1263.50 1316.21 L1266.22 1316.29 L1268.93 1316.37 L1271.65 1316.45 L1274.36 1316.53 L1277.08 1316.61 L1279.79 1316.68 L1282.50 1316.76 L1285.22 1316.83 L1287.93 1316.90 L1290.65 1316.97 L1293.36 1317.04 L1296.08 1317.11 L1298.79 1317.17 L1301.51 1317.24 L1304.22 1317.30 L1306.93 1317.36 L1309.65 1317.43 L1312.36 1317.49 L1315.08 1317.54 L1317.79 1317.60 L1320.51 1317.66 L1323.22 1317.71 L1325.93 1317.77 L1328.65 1317.82 L1331.36 1317.87 L1334.08 1317.92 L1336.79 1317.98 L1339.51 1318.02 L1342.22 1318.07 L1344.93 1318.12 L1347.65 1318.17 L1350.36 1318.21 L1353.08 1318.26 L1355.79 1318.30 L1358.50 1318.34 L1361.22 1318.38 L1363.93 1318.42 L1366.65 1318.46 L1369.36 1318.50 L1372.08 1318.54 L1374.79 1318.58 L1377.50 1318.62 L1380.22 1318.65 L1382.93 1318.69 L1385.65 1318.72 L1388.36 1318.75 L1391.07 1318.79 L1393.79 1318.82 L1396.50 1318.85 L1399.22 1318.88 L1401.93 1318.91 L1404.65 1318.94 L1407.36 1318.97 L1410.07 1319.00 L1412.79 1319.02 L1415.50 1319.05 L1418.22 1319.08 L1420.93 1319.10 L1423.64 1319.13 L1426.36 1319.15 L1429.07 1319.18 L1431.79 1319.20 L1434.50 1319.22 L1437.21 1319.25 L1439.93 1319.28 L1442.64 1319.31 L1445.36 1319.33 L1448.07 1319.36 L1450.78 1319.38 L1453.50 1319.41 L1456.21 1319.44 L1458.93 1319.46 L1461.64 1319.48 L1464.35 1319.51 L1467.07 1319.53 L1469.78 1319.55 L1472.50 1319.57 L1475.21 1319.60 L1477.92 1319.62 L1480.64 1319.64 L1483.35 1319.66 L1486.07 1319.68 L1488.78 1319.70 L1491.49 1319.72 L1494.21 1319.74 L1496.92 1319.75 L1499.64 1319.77 L1502.35 1319.79 L1505.06 1319.81 L1507.78 1319.82 L1510.49 1319.84 L1513.21 1319.86 L1515.92 1319.87 L1518.63 1319.89 L1521.35 1319.90 L1524.06 1319.92 L1526.78 1319.93 L1529.49 1319.95 L1532.20 1319.96 L1534.92 1319.98 L1537.63 1319.99 L1540.35 1320.00 L1543.06 1320.01 L1545.77 1320.03 L1548.49 1320.04 L1551.20 1320.05 L1553.92 1320.06 L1556.63 1320.07 L1559.34 1320.09 L1562.06 1320.10 L1564.77 1320.11 L1567.49 1320.12 L1570.20 1320.13 L1572.91 1320.14 L1575.63 1320.15 L1578.34 1320.16 L1581.06 1320.17 L1583.77 1320.18 L1586.48 1320.18 L1589.20 1320.19 L1591.91 1320.20 L1594.63 1320.21 L1597.34 1320.22 L1600.05 1320.23 L1602.77 1320.23 L1605.48 1320.24 L1608.20 1320.25 L1610.91 1320.26 L1613.62 1320.26 L1616.34 1320.27 L1619.05 1320.28 L1621.77 1320.28 L1624.48 1320.29 L1627.19 1320.29 L1629.91 1320.30 L1632.62 1320.31 L1635.34 1320.31 L1638.05 1320.32 L1640.76 1320.32 L1643.48 1320.33 L1646.19 1320.33 L1648.91 1320.34 L1651.62 1320.34 L1654.33 1320.35 L1657.05 1320.35 L1659.76 1320.36 L1662.48 1320.36 L1665.19 1320.37 L1667.90 1320.37 L1670.62 1320.37 L1673.33 1320.38 L1676.05 1320.38 L1678.76 1320.39 L1681.47 1320.39 L1684.19 1320.39 L1686.90 1320.40 L1689.62 1320.40 L1692.33 1320.40 L1695.04 1320.41 L1697.76 1320.41 L1700.47 1320.41 L1703.19 1320.41 L1705.90 1320.42 L1708.61 1320.42 L1711.33 1320.42 L1714.04 1320.43 L1716.76 1320.43 L1719.47 1320.43 L1722.18 1320.43 L1724.90 1320.44 L1727.61 1320.44 L1730.33 1320.44 L1733.04 1320.44 L1735.75 1320.44 L1738.47 1320.45 L1741.18 1320.45 L1743.90 1320.45 L1746.61 1320.45 L1749.32 1320.45 L1752.04 1320.45 L1754.75 1320.46 L1757.47 1320.46 L1760.18 1320.46 L1762.89 1320.46 L1765.61 1320.46 L1768.32 1320.46 L1771.04 1320.46 L1773.75 1320.47 L1776.46 1320.47 L1779.18 1320.47 L1781.89 1320.47 L1784.61 1320.47 L1787.32 1320.47 L1790.03 1320.47 L1792.75 1320.47 L1795.46 1320.47 L1798.18 1320.48 L1800.89 1320.48 L1803.60 1320.48 L1806.32 1320.48 L1809.03 1320.48 L1811.75 1320.48 L1814.46 1320.48 L1817.17 1320.48 L1819.89 1320.48 L1822.60 1320.48 L1825.32 1320.48 L1828.03 1320.48 L1830.74 1320.49 L1833.46 1320.49 L1836.17 1320.49 L1838.89 1320.49 L1841.60 1320.49" stroke="#00ff00" stroke-width="11.50"/>
<path d="M213.20 35.91 L213.48 36.69 L216.18 44.03 L218.87 51.44 L221.57 58.92 L224.26 66.46 L226.96 74.07 L229.65 81.75 L232.35 89.48 L235.04 97.26 L237.74 105.11 L240.43 113.00 L243.13 120.94 L245.82 128.93 L248.52 136.96 L251.21 145.04 L253.91 153.16 L256.62 161.30 L259.34 169.48 L262.05 177.70 L264.77 185.95 L267.48 194.22 L270.19 202.52 L272.91 210.85 L275.62 219.20 L278.34 227.56 L281.05 235.95 L283.76 244.35 L286.48 252.77 L289.19 261.20 L291.91 269.64 L294.62 278.08 L297.33 286.54 L300.05 295.00 L302.76 303.46 L305.48 311.92 L308.19 320.38 L310.90 328.84 L313.62 337.29 L316.33 345.74 L319.05 354.18 L321.76 362.62 L324.47 371.04 L327.19 379.45 L329.90 387.85 L332.62 396.23 L335.33 404.59 L338.04 412.94 L340.76 421.27 L343.47 429.57 L346.19 437.86 L348.90 446.12 L351.61 454.36 L354.33 462.57 L357.04 470.75 L359.76 478.91 L362.47 487.04 L365.18 495.14 L367.90 503.21 L370.61 511.24 L373.33 519.24 L376.04 527.21 L378.75 535.14 L381.47 543.04 L384.18 550.90 L386.90 558.72 L389.61 566.50 L392.32 574.24 L395.04 581.95 L397.75 589.61 L400.47 597.23 L403.18 604.81 L405.89 612.35 L408.61 619.84 L411.32 627.29 L414.04 634.69 L416.75 642.05 L419.46 649.36 L422.18 656.62 L424.89 663.84 L427.61 671.01 L430.32 678.13 L433.03 685.21 L435.75 692.24 L438.46 699.21 L441.18 706.14 L443.89 713.02 L446.60 719.85 L449.32 726.63 L452.03 733.35 L454.75 740.03 L457.46 746.65 L460.14 753.24 L462.81 759.78 L465.49 766.27 L468.17 772.70 L470.85 779.09 L473.52 785.42 L476.20 791.70 L478.88 797.92 L481.56 804.10 L484.23 810.22 L486.91 816.29 L489.59 822.31 L492.27 828.28 L494.95 834.19 L497.63 840.05 L500.32 845.85 L503.02 851.60 L505.72 857.30 L508.41 862.94 L511.11 868.53 L513.81 874.07 L516.50 879.56 L519.20 885.00 L521.90 890.38 L524.60 895.72 L527.29 901.00 L529.99 906.23 L532.69 911.41 L535.39 916.54 L538.08 921.61 L540.78 926.64 L543.48 931.62 L546.18 936.54 L548.88 941.42 L551.58 946.24 L554.28 951.02 L556.97 955.75 L559.67 960.43 L562.37 965.06 L565.07 969.64 L567.77 974.17 L570.47 978.66 L573.17 983.09 L575.87 987.48 L578.57 991.82 L581.27 996.12 L583.97 1000.37 L586.67 1004.57 L589.37 1008.73 L592.07 1012.84 L594.77 1016.90 L597.47 1020.92 L600.18 1024.90 L602.88 1028.83 L605.58 1032.72 L608.28 1036.56 L610.98 1040.36 L613.69 1044.11 L616.39 1047.83 L619.09 1051.50 L621.79 1055.13 L624.50 1058.71 L627.20 1062.26 L629.90 1065.76 L632.62 1069.21 L635.36 1072.61 L638.09 1075.97 L640.83 1079.28 L643.56 1082.56 L646.30 1085.80 L649.03 1089.00 L651.76 1092.16 L654.50 1095.28 L657.23 1098.36 L659.97 1101.40 L662.66 1104.45 L665.35 1107.46 L668.04 1110.44 L670.73 1113.38 L673.42 1116.28 L676.11 1119.15 L678.81 1121.98 L681.50 1124.78 L684.19 1127.54 L686.89 1130.27 L689.58 1132.97 L692.27 1135.63 L694.97 1138.26 L697.67 1140.86 L700.36 1143.43 L703.08 1145.93 L705.81 1148.41 L708.53 1150.85 L711.26 1153.26 L713.98 1155.64 L716.70 1157.99 L719.43 1160.31 L722.15 1162.59 L724.87 1164.85 L727.60 1167.08 L730.32 1169.28 L733.05 1171.46 L735.77 1173.60 L738.49 1175.72 L741.22 1177.80 L743.94 1179.87 L746.67 1181.90 L749.39 1183.91 L752.12 1185.89 L754.84 1187.84 L757.56 1189.77 L760.29 1191.67 L763.01 1193.55 L765.74 1195.40 L768.46 1197.23 L771.19 1199.04 L773.91 1200.81 L776.63 1202.57 L779.36 1204.30 L782.08 1206.01 L784.80 1207.70 L787.52 1209.37 L790.24 1211.02 L792.96 1212.65 L795.68 1214.25 L798.40 1215.83 L801.12 1217.40 L803.84 1218.94 L806.56 1220.45 L809.29 1221.95 L812.01 1223.43 L814.73 1224.89 L817.45 1226.33 L820.17 1227.75 L822.89 1229.14 L825.61 1230.52 L828.33 1231.89 L831.05 1233.23 L833.77 1234.55 L836.49 1235.86 L839.21 1237.15 L841.93 1238.42 L844.66 1239.67 L847.38 1240.91 L850.10 1242.13 L852.82 1243.33 L855.54 1244.51 L858.26 1245.68 L860.98 1246.84 L863.70 1247.97 L866.42 1249.09 L869.15 1250.20 L871.87 1251.29 L874.59 1252.36 L877.31 1253.42 L880.03 1254.47 L882.76 1255.49 L885.48 1256.50 L888.20 1257.49 L890.93 1258.47 L893.65 1259.43 L896.38 1260.38 L899.10 1261.32 L901.83 1262.24 L904.55 1263.15 L907.27 1264.05 L910.00 1264.93 L912.72 1265.81 L915.45 1266.67 L918.17 1267.51 L920.89 1268.35 L923.62 1269.17 L926.34 1269.98 L929.06 1270.78 L931.79 1271.57 L934.51 1272.35 L937.23 1273.12 L939.95 1273.87 L942.68 1274.62 L945.40 1275.35 L948.12 1276.07 L950.84 1276.79 L953.57 1277.49 L956.29 1278.18 L959.01 1278.86 L961.73 1279.53 L964.45 1280.20 L967.18 1280.85 L969.90 1281.49 L972.62 1282.13 L975.34 1282.75 L978.06 1283.37 L980.78 1283.98 L983.50 1284.57 L986.23 1285.16 L988.95 1285.73 L991.67 1286.29 L994.40 1286.85 L997.12 1287.39 L999.84 1287.93 L1002.56 1288.45 L1005.29 1288.97 L1008.01 1289.48 L1010.73 1289.99 L1013.45 1290.49 L1016.18 1290.98 L1018.90 1291.46 L1021.62 1291.93 L1024.34 1292.40 L1027.06 1292.86 L1029.78 1293.31 L1032.50 1293.76 L1035.23 1294.20 L1037.95 1294.63 L1040.67 1295.06 L1043.39 1295.48 L1046.11 1295.89 L1048.83 1296.30 L1051.55 1296.70 L1054.27 1297.10 L1056.99 1297.49 L1059.71 1297.87 L1062.43 1298.25 L1065.15 1298.62 L1067.87 1298.98 L1070.59 1299.34 L1073.31 1299.70 L1076.03 1300.05 L1078.75 1300.39 L1081.47 1300.73 L1084.18 1301.06 L1086.90 1301.39 L1089.62 1301.71 L1092.34 1302.03 L1095.06 1302.35 L1097.78 1302.65 L1100.50 1302.96 L1103.22 1303.26 L1105.93 1303.55 L1108.65 1303.84 L1111.37 1304.12 L1114.09 1304.40 L1116.81 1304.68 L1119.52 1304.95 L1122.24 1305.22 L1124.96 1305.48 L1127.68 1305.74 L1130.39 1305.99 L1133.11 1306.24 L1135.83 1306.49 L1138.55 1306.73 L1141.26 1306.97 L1143.98 1307.21 L1146.70 1307.44 L1149.42 1307.67 L1152.13 1307.89 L1154.85 1308.11 L1157.57 1308.33 L1160.28 1308.55 L1163.00 1308.76 L1165.72 1308.97 L1168.43 1309.17 L1171.15 1309.37 L1173.87 1309.57 L1176.58 1309.76 L1179.30 1309.96 L1182.01 1310.14 L1184.73 1310.33 L1187.45 1310.51 L1190.16 1310.69 L1192.88 1310.87 L1195.59 1311.04 L1198.31 1311.21 L1201.03 1311.38 L1203.74 1311.54 L1206.46 1311.70 L1209.17 1311.86 L1211.89 1312.02 L1214.61 1312.17 L1217.32 1312.33 L1220.04 1312.47 L1222.75 1312.62 L1225.47 1312.76 L1228.18 1312.91 L1230.90 1313.04 L1233.62 1313.18 L1236.33 1313.31 L1239.05 1313.45 L1241.76 1313.58 L1244.48 1313.70 L1247.19 1313.83 L1249.91 1313.95 L1252.62 1314.07 L1255.34 1314.19 L1258.05 1314.31 L1260.77 1314.42 L1263.48 1314.53 L1266.20 1314.64 L1268.91 1314.75 L1271.63 1314.86 L1274.34 1314.96 L1277.06 1315.07 L1279.77 1315.17 L1282.49 1315.26 L1285.20 1315.36 L1287.92 1315.46 L1290.63 1315.55 L1293.35 1315.64 L1296.06 1315.73 L1298.78 1315.82 L1301.49 1315.91 L1304.21 1315.99 L1306.92 1316.08 L1309.64 1316.16 L1312.35 1316.24 L1315.07 1316.32 L1317.78 1316.41 L1320.50 1316.49 L1323.21 1316.57 L1325.93 1316.65 L1328.64 1316.73 L1331.35 1316.80 L1334.07 1316.88 L1336.78 1316.95 L1339.50 1317.02 L1342.21 1317.09 L1344.93 1317.16 L1347.64 1317.23 L1350.36 1317.30 L1353.07 1317.37 L1355.78 1317.43 L1358.50 1317.49 L1361.21 1317.56 L1363.93 1317.62 L1366.64 1317.68 L1369.36 1317.73 L1372.07 1317.79 L1374.78 1317.85 L1377.50 1317.90 L1380.21 1317.96 L1382.93 1318.01 L1385.64 1318.06 L1388.36 1318.11 L1391.07 1318.16 L1393.78 1318.21 L1396.50 1318.26 L1399.21 1318.31 L1401.93 1318.35 L1404.64 1318.40 L1407.36 1318.44 L1410.07 1318.49 L1412.78 1318.53 L1415.50 1318.57 L1418.21 1318.61 L1420.93 1318.65 L1423.64 1318.69 L1426.35 1318.73 L1429.07 1318.76 L1431.78 1318.80 L1434.50 1318.83 L1437.21 1318.87 L1439.93 1318.90 L1442.64 1318.94 L1445.35 1318.97 L1448.07 1319.00 L1450.78 1319.03 L1453.50 1319.06 L1456.21 1319.09 L1458.92 1319.12 L1461.64 1319.15 L1464.35 1319.18 L1467.07 1319.20 L1469.78 1319.23 L1472.49 1319.25 L1475.21 1319.28 L1477.92 1319.30 L1480.64 1319.33 L1483.35 1319.35 L1486.07 1319.37 L1488.78 1319.39 L1491.49 1319.42 L1494.21 1319.44 L1496.92 1319.46 L1499.64 1319.48 L1502.35 1319.49 L1505.06 1319.51 L1507.78 1319.53 L1510.49 1319.55 L1513.21 1319.57 L1515.92 1319.58 L1518.63 1319.60 L1521.35 1319.63 L1524.06 1319.65 L1526.78 1319.67 L1529.49 1319.69 L1532.20 1319.71 L1534.92 1319.73 L1537.63 1319.75 L1540.35 1319.77 L1543.06 1319.79 L1545.77 1319.81 L1548.49 1319.82 L1551.20 1319.84 L1553.92 1319.86 L1556.63 1319.88 L1559.34 1319.89 L1562.06 1319.91 L1564.77 1319.92 L1567.49 1319.94 L1570.20 1319.95 L1572.91 1319.97 L1575.63 1319.98 L1578.34 1320.00 L1581.06 1320.01 L1583.77 1320.02 L1586.48 1320.04 L1589.20 1320.05 L1591.91 1320.06 L1594.63 1320.07 L1597.34 1320.09 L1600.05 1320.10 L1602.77 1320.11 L1605.48 1320.12 L1608.20 1320.13 L1610.91 1320.14 L1613.62 1320.15 L1616.34 1320.16 L1619.05 1320.17 L1621.77 1320.18 L1624.48 1320.19 L1627.19 1320.20 L1629.91 1320.21 L1632.62 1320.22 L1635.34 1320.22 L1638.05 1320.23 L1640.76 1320.24 L1643.48 1320.25 L1646.19 1320.26 L1648.91 1320.26 L1651.62 1320.27 L1654.33 1320.28 L1657.05 1320.28 L1659.76 1320.29 L1662.48 1320.30 L1665.19 1320.30 L1667.90 1320.31 L1670.62 1320.31 L1673.33 1320.32 L1676.05 1320.33 L1678.76 1320.33 L1681.47 1320.34 L1684.19 1320.34 L1686.90 1320.35 L1689.62 1320.35 L1692.33 1320.36 L1695.04 1320.36 L1697.76 1320.37 L1700.47 1320.37 L1703.19 1320.37 L1705.90 1320.38 L1708.61 1320.38 L1711.33 1320.39 L1714.04 1320.39 L1716.76 1320.39 L1719.47 1320.40 L1722.18 1320.40 L1724.90 1320.40 L1727.61 1320.41 L1730.33 1320.41 L1733.04 1320.41 L1735.75 1320.42 L1738.47 1320.42 L1741.18 1320.42 L1743.90 1320.43 L1746.61 1320.43 L1749.32 1320.43 L1752.04 1320.43 L1754.75 1320.44 L1757.47 1320.44 L1760.18 1320.44 L1762.89 1320.44 L1765.61 1320.44 L1768.32 1320.45 L1771.04 1320.45 L1773.75 1320.45 L1776.46 1320.45 L1779.18 1320.45 L1781.89 1320.46 L1784.61 1320.46 L1787.32 1320.46 L1790.03 1320.46 L1792.75 1320.46 L1795.46 1320.46 L1798.18 1320.46 L1800.89 1320.47 L1803.60 1320.47 L1806.32 1320.47 L1809.03 1320.47 L1811.75 1320.47 L1814.46 1320.47 L1817.17 1320.47 L1819.89 1320.47 L1822.60 1320.48 L1825.32 1320.48 L1828.03 1320.48 L1830.74 1320.48 L1833.46 1320.48 L1836.17 1320.48 L1838.89 1320.48 L1841.60 1320.48" stroke="#00ff00" stroke-width="11.50"/>
<g stroke="#ff0000">
<path d="M213.20 104.91 L215.06 110.00 L217.76 117.44 L220.45 124.97 L223.14 132.60 L225.83 140.32 L225.98 140.75" stroke-width="11.66"/>
<path d="M237.58 175.03 L239.29 180.21 L241.99 188.42 L244.68 196.70 L247.37 205.04 L249.58 211.93" stroke-width="11.70"/>
<path d="M260.56 246.43 L262.30 251.94 L265.03 260.62 L267.77 269.35 L270.50 278.12 L272.16 283.45" stroke-width="11.71"/>
<path d="M282.82 318.05 L285.53 326.91 L288.27 335.86 L291.00 344.83 L293.73 353.82 L294.14 355.16" stroke-width="11.71"/>
<path d="M304.64 389.80 L306.03 394.38 L308.76 403.41 L311.50 412.44 L314.23 421.46 L315.89 426.94" stroke-width="11.71"/>
<path d="M326.41 461.57 L327.90 466.45 L330.63 475.41 L333.36 484.35 L336.10 493.27 L337.76 498.68" stroke-width="11.71"/>
<path d="M348.44 533.27 L351.13 541.89 L353.86 550.63 L356.59 559.35 L359.32 568.02 L360.04 570.29" stroke-width="11.71"/>
<path d="M371.04 604.78 L372.99 610.84 L375.72 619.27 L378.46 627.67 L381.20 636.01 L383.07 641.67" stroke-width="11.70"/>
<path d="M394.56 676.00 L396.28 681.04 L399.02 689.06 L401.76 697.03 L404.50 704.94 L407.20 712.68" stroke-width="11.68"/>
<path d="M419.33 746.79 L420.94 751.24 L423.68 758.75 L426.42 766.21 L429.16 773.60 L431.90 780.93 L432.75 783.19" stroke-width="11.64"/>
<path d="M445.73 816.98 L448.34 823.61 L451.08 830.50 L453.82 837.33 L456.56 844.09 L459.29 850.79 L460.20 852.98" stroke-width="11.58"/>
<path d="M474.29 886.33 L475.72 889.64 L478.46 895.88 L481.20 902.06 L483.94 908.18 L486.68 914.23 L489.42 920.21 L490.13 921.75" stroke-width="11.50"/>
<path d="M505.54 954.50 L508.35 960.41 L512.35 968.65 L516.34 976.74 L520.33 984.70 L522.68 989.31" stroke-width="11.42"/>
<path d="M539.67 1021.27 L542.96 1027.16 L546.97 1034.20 L550.97 1041.10 L554.98 1047.87 L558.99 1054.51 L559.17 1054.81" stroke-width="11.24"/>
<path d="M578.83 1085.21 L581.88 1089.65 L585.92 1095.44 L589.96 1101.11 L593.99 1106.66 L598.03 1112.10 L601.49 1116.69" stroke-width="10.96"/>
<path d="M624.00 1145.04 L628.64 1150.45 L633.96 1156.50 L639.29 1162.38 L644.62 1168.08 L649.95 1173.62 L650.08 1173.75" stroke-width="10.72"/>
<path d="M676.73 1198.22 L682.52 1202.94 L689.36 1208.30 L696.19 1213.45 L703.02 1218.39 L707.64 1221.65" stroke-width="10.31"/>
<path d="M738.20 1241.03 L743.81 1244.20 L750.61 1247.88 L757.40 1251.41 L764.20 1254.79 L770.99 1258.01 L772.69 1258.79" stroke-width="10.54"/>
<path d="M806.17 1272.52 L813.10 1274.99 L821.25 1277.76 L829.40 1280.37 L837.54 1282.83 L843.09 1284.43" stroke-width="10.84"/>
<path d="M878.28 1292.89 L885.11 1294.27 L893.26 1295.85 L901.41 1297.33 L909.56 1298.71 L916.45 1299.82" stroke-width="11.12"/>
<path d="M952.34 1304.52 L959.78 1305.32 L967.92 1306.14 L976.06 1306.89 L984.20 1307.59 L990.97 1308.13" stroke-width="11.30"/>
<path d="M1027.07 1310.81 L1034.35 1311.32 L1042.48 1311.84 L1050.61 1312.33 L1058.74 1312.79 L1065.80 1313.16" stroke-width="11.37"/>
<path d="M1101.96 1314.78 L1108.90 1315.04 L1117.03 1315.33 L1125.17 1315.59 L1133.31 1315.85 L1140.74 1316.06" stroke-width="11.43"/>
<path d="M1176.93 1316.93 L1184.84 1317.09 L1192.98 1317.24 L1201.12 1317.39 L1209.26 1317.53 L1215.72 1317.64" stroke-width="11.46"/>
<path d="M1251.92 1318.15 L1259.46 1318.24 L1267.60 1318.33 L1275.74 1318.42 L1283.88 1318.49 L1290.72 1318.55" stroke-width="11.48"/>
<path d="M1326.92 1318.83 L1334.09 1318.88 L1342.23 1318.94 L1350.37 1318.99 L1358.51 1319.04 L1365.72 1319.08" stroke-width="11.49"/>
<path d="M1401.91 1319.28 L1408.72 1319.31 L1416.86 1319.35 L1425.00 1319.39 L1433.14 1319.43 L1440.71 1319.45" stroke-width="11.49"/>
<path d="M1476.91 1319.57 L1484.71 1319.60 L1492.85 1319.62 L1500.99 1319.65 L1509.14 1319.67 L1515.71 1319.69" stroke-width="11.49"/>
<path d="M1551.91 1319.79 L1559.34 1319.80 L1567.49 1319.82 L1575.63 1319.84 L1583.77 1319.87 L1590.71 1319.88" stroke-width="11.49"/>
<path d="M1626.91 1319.97 L1633.98 1319.99 L1642.12 1320.01 L1650.26 1320.03 L1658.41 1320.05 L1665.71 1320.07" stroke-width="11.49"/>
<path d="M1701.91 1320.16 L1709.97 1320.18 L1718.11 1320.20 L1726.26 1320.22 L1734.40 1320.24 L1740.71 1320.25" stroke-width="11.49"/>
<path d="M1776.91 1320.34 L1784.61 1320.36 L1792.75 1320.38 L1800.89 1320.40 L1809.03 1320.42 L1815.71 1320.44" stroke-width="11.49"/>
<path d="M213.20 80.05 L214.88 84.61 L217.59 92.02 L220.29 99.52 L223.00 107.10 L225.70 114.77 L226.08 115.85" stroke-width="11.65"/>
<path d="M237.83 150.09 L239.22 154.23 L241.93 162.33 L244.63 170.49 L247.34 178.71 L250.02 186.93" stroke-width="11.70"/>
<path d="M261.19 221.36 L263.67 229.07 L266.40 237.61 L269.13 246.19 L271.87 254.80 L272.98 258.33" stroke-width="11.71"/>
<path d="M283.84 292.86 L285.53 298.26 L288.26 307.02 L291.00 315.79 L293.73 324.58 L295.39 329.90" stroke-width="11.71"/>
<path d="M306.11 364.48 L308.76 373.04 L311.50 381.85 L314.23 390.67 L316.96 399.48 L317.60 401.53" stroke-width="11.71"/>
<path d="M328.36 436.10 L330.63 443.36 L333.36 452.10 L336.09 460.81 L338.83 469.51 L339.97 473.12" stroke-width="11.71"/>
<path d="M350.90 507.63 L352.49 512.61 L355.22 521.15 L357.96 529.66 L360.69 538.13 L362.77 544.57" stroke-width="11.70"/>
<path d="M374.03 578.98 L375.72 584.09 L378.46 592.32 L381.20 600.50 L383.94 608.64 L386.35 615.77" stroke-width="11.69"/>
<path d="M398.11 650.00 L400.38 656.53 L403.13 664.34 L405.87 672.10 L408.61 679.81 L411.03 686.59" stroke-width="11.66"/>
<path d="M423.43 720.60 L425.05 724.96 L427.79 732.29 L430.53 739.57 L433.27 746.79 L436.01 753.96 L437.14 756.90" stroke-width="11.62"/>
<path d="M450.38 790.59 L452.45 795.73 L455.18 802.49 L457.92 809.18 L460.66 815.82 L463.40 822.40 L465.12 826.48" stroke-width="11.57"/>
<path d="M479.45 859.72 L481.20 863.68 L483.94 869.80 L486.68 875.87 L489.42 881.87 L492.16 887.81 L494.90 893.69 L495.53 895.03" stroke-width="11.49"/>
<path d="M511.08 927.72 L513.81 933.30 L517.85 941.42 L521.88 949.41 L525.91 957.26 L528.56 962.36" stroke-width="11.39"/>
<path d="M545.82 994.17 L548.75 999.34 L552.78 1006.34 L556.81 1013.21 L560.85 1019.97 L564.88 1026.60 L565.50 1027.61" stroke-width="11.23"/>
<path d="M585.13 1058.02 L589.16 1063.84 L593.23 1069.62 L597.31 1075.29 L601.38 1080.85 L605.46 1086.31 L607.86 1089.47" stroke-width="10.96"/>
<path d="M630.40 1117.79 L635.02 1123.33 L640.33 1129.55 L645.64 1135.60 L650.96 1141.49 L656.01 1146.93" stroke-width="10.75"/>
<path d="M682.03 1172.08 L687.34 1176.75 L692.76 1181.38 L698.18 1185.88 L703.59 1190.25 L708.98 1194.52 L711.92 1196.80" stroke-width="10.41"/>
<path d="M741.47 1217.69 L748.11 1221.92 L754.86 1226.06 L761.61 1230.05 L768.36 1233.88 L774.86 1237.43" stroke-width="10.45"/>
<path d="M807.52 1253.03 L813.12 1255.40 L819.91 1258.16 L826.70 1260.81 L833.49 1263.35 L840.28 1265.78 L843.71 1266.98" stroke-width="10.73"/>
<path d="M878.29 1277.67 L885.07 1279.52 L891.85 1281.31 L898.63 1283.02 L905.41 1284.66 L912.19 1286.24 L915.93 1287.08" stroke-width="10.98"/>
<path d="M951.46 1294.00 L958.32 1295.15 L966.46 1296.45 L974.60 1297.68 L982.74 1298.84 L989.82 1299.80" stroke-width="11.18"/>
<path d="M1025.77 1304.03 L1032.94 1304.77 L1041.07 1305.57 L1049.21 1306.33 L1057.35 1307.05 L1064.40 1307.64" stroke-width="11.30"/>
<path d="M1100.51 1310.27 L1107.53 1310.71 L1115.67 1311.20 L1123.81 1311.66 L1131.95 1312.10 L1139.24 1312.47" stroke-width="11.38"/>
<path d="M1175.41 1314.06 L1183.50 1314.36 L1191.64 1314.65 L1199.78 1314.93 L1207.92 1315.18 L1214.19 1315.37" stroke-width="11.43"/>
<path d="M1250.37 1316.34 L1258.11 1316.52 L1266.25 1316.70 L1274.40 1316.87 L1282.54 1317.03 L1289.16 1317.15" stroke-width="11.46"/>
<path d="M1325.36 1317.71 L1332.74 1317.81 L1340.88 1317.92 L1349.02 1318.01 L1357.16 1318.11 L1364.16 1318.18" stroke-width="11.47"/>
<path d="M1400.36 1318.52 L1407.37 1318.57 L1415.51 1318.63 L1423.65 1318.69 L1431.79 1318.75 L1439.15 1318.81" stroke-width="11.48"/>
<path d="M1475.35 1319.09 L1483.36 1319.15 L1491.50 1319.20 L1499.64 1319.26 L1507.78 1319.31 L1514.15 1319.35" stroke-width="11.49"/>
<path d="M1550.35 1319.54 L1557.99 1319.58 L1566.13 1319.61 L1574.27 1319.65 L1582.41 1319.69 L1589.15 1319.71" stroke-width="11.49"/>
<path d="M1625.35 1319.86 L1632.62 1319.88 L1640.76 1319.91 L1648.91 1319.94 L1657.05 1319.97 L1664.15 1319.99" stroke-width="11.49"/>
<path d="M1700.35 1320.11 L1707.26 1320.13 L1715.40 1320.15 L1723.54 1320.17 L1731.68 1320.20 L1739.15 1320.22" stroke-width="11.49"/>
<path d="M1775.35 1320.32 L1783.25 1320.34 L1791.39 1320.36 L1799.53 1320.38 L1807.68 1320.41 L1814.15 1320.42" stroke-width="11.49"/>
<path d="M213.20 58.09 L214.88 62.65 L217.59 70.04 L220.29 77.51 L223.00 85.05 L225.70 92.67 L226.12 93.88" stroke-width="11.65"/>
<path d="M237.96 128.08 L240.58 135.79 L243.28 143.83 L245.99 151.92 L248.69 160.06 L250.28 164.88" stroke-width="11.69"/>
<path d="M261.60 199.26 L263.67 205.59 L266.40 213.99 L269.13 222.42 L271.87 230.88 L273.57 236.17" stroke-width="11.70"/>
<path d="M284.61 270.65 L286.90 277.83 L289.63 286.43 L292.36 295.04 L295.10 303.65 L296.35 307.62" stroke-width="11.71"/>
<path d="M307.28 342.14 L308.76 346.83 L311.50 355.46 L314.23 364.09 L316.96 372.72 L318.99 379.13" stroke-width="11.71"/>
<path d="M329.96 413.62 L331.99 419.99 L334.73 428.53 L337.46 437.06 L340.19 445.57 L341.80 450.57" stroke-width="11.70"/>
<path d="M352.96 485.01 L355.22 491.94 L357.95 500.29 L360.69 508.60 L363.42 516.88 L365.07 521.87" stroke-width="11.70"/>
<path d="M376.55 556.20 L378.45 561.81 L381.19 569.86 L383.94 577.86 L386.68 585.82 L389.13 592.91" stroke-width="11.68"/>
<path d="M401.12 627.07 L403.12 632.70 L405.86 640.35 L408.60 647.96 L411.35 655.52 L414.09 663.03 L414.28 663.56" stroke-width="11.65"/>
<path d="M426.90 697.49 L429.16 703.44 L431.90 710.62 L434.64 717.75 L437.38 724.82 L440.12 731.84 L440.85 733.70" stroke-width="11.61"/>
<path d="M454.29 767.31 L456.55 772.83 L459.29 779.47 L462.03 786.05 L464.77 792.58 L467.51 799.05 L469.24 803.11" stroke-width="11.55"/>
<path d="M483.76 836.28 L485.31 839.73 L488.05 845.78 L490.79 851.77 L493.53 857.70 L496.27 863.57 L499.01 869.39 L500.01 871.51" stroke-width="11.48"/>
<path d="M515.79 904.09 L519.41 911.31 L523.49 919.32 L527.57 927.20 L531.65 934.96 L533.57 938.57" stroke-width="11.37"/>
<path d="M551.08 970.25 L554.75 976.61 L558.82 983.57 L562.90 990.40 L566.97 997.12 L570.95 1003.57" stroke-width="11.21"/>
<path d="M590.60 1033.97 L594.04 1039.06 L598.09 1044.94 L602.13 1050.71 L606.20 1056.37 L610.26 1061.92 L613.02 1065.64" stroke-width="10.99"/>
<path d="M635.42 1094.07 L640.04 1099.58 L645.42 1105.89 L650.78 1112.07 L656.15 1118.09 L660.92 1123.31" stroke-width="10.76"/>
<path d="M686.32 1149.10 L691.07 1153.51 L696.47 1158.41 L701.87 1163.17 L707.25 1167.82 L712.63 1172.36 L715.46 1174.70" stroke-width="10.48"/>
<path d="M744.25 1196.63 L750.27 1200.82 L757.00 1205.34 L763.73 1209.71 L770.46 1213.92 L776.79 1217.74" stroke-width="10.39"/>
<path d="M808.54 1235.12 L814.90 1238.26 L821.64 1241.47 L828.38 1244.57 L835.13 1247.55 L841.87 1250.43 L843.82 1251.24" stroke-width="10.61"/>
<path d="M877.68 1264.04 L883.75 1266.06 L890.52 1268.20 L897.30 1270.26 L904.08 1272.25 L910.86 1274.15 L914.82 1275.23" stroke-width="10.88"/>
<path d="M950.01 1283.71 L956.99 1285.19 L965.13 1286.83 L973.27 1288.40 L981.42 1289.89 L988.10 1291.07" stroke-width="11.09"/>
<path d="M1023.88 1296.60 L1031.61 1297.66 L1039.75 1298.73 L1047.89 1299.75 L1056.03 1300.72 L1062.37 1301.45" stroke-width="11.23"/>
<path d="M1098.39 1305.09 L1106.21 1305.79 L1114.34 1306.49 L1122.48 1307.15 L1130.62 1307.78 L1137.06 1308.25" stroke-width="11.33"/>
<path d="M1173.18 1310.60 L1180.80 1311.04 L1188.94 1311.48 L1197.08 1311.90 L1205.22 1312.30 L1211.93 1312.61" stroke-width="11.39"/>
<path d="M1248.10 1314.12 L1255.42 1314.39 L1263.55 1314.68 L1271.69 1314.95 L1279.83 1315.21 L1286.87 1315.42" stroke-width="11.43"/>
<path d="M1323.06 1316.36 L1330.03 1316.52 L1338.18 1316.69 L1346.32 1316.86 L1354.46 1317.01 L1361.85 1317.15" stroke-width="11.46"/>
<path d="M1398.05 1317.73 L1406.02 1317.84 L1414.16 1317.95 L1422.30 1318.05 L1430.44 1318.14 L1436.85 1318.22" stroke-width="11.47"/>
<path d="M1473.04 1318.66 L1480.64 1318.74 L1488.79 1318.82 L1496.93 1318.90 L1505.07 1318.98 L1511.84 1319.04" stroke-width="11.48"/>
<path d="M1548.04 1319.32 L1555.28 1319.37 L1563.42 1319.42 L1571.56 1319.47 L1579.70 1319.52 L1586.84 1319.56" stroke-width="11.49"/>
<path d="M1623.04 1319.75 L1629.91 1319.78 L1638.05 1319.82 L1646.19 1319.85 L1654.33 1319.89 L1661.84 1319.92" stroke-width="11.49"/>
<path d="M1698.04 1320.06 L1705.90 1320.08 L1714.04 1320.11 L1722.18 1320.14 L1730.33 1320.17 L1736.84 1320.19" stroke-width="11.49"/>
<path d="M1773.04 1320.30 L1780.54 1320.32 L1788.68 1320.34 L1796.82 1320.37 L1804.96 1320.39 L1811.84 1320.41" stroke-width="11.49"/>
<path d="M213.20 38.62 L215.36 44.33 L218.12 51.71 L220.89 59.16 L223.66 66.68 L226.42 74.26 L226.44 74.30" stroke-width="11.63"/>
<path d="M238.62 108.39 L240.26 113.06 L243.03 120.98 L245.80 128.94 L248.56 136.95 L251.33 145.00 L251.35 145.04" stroke-width="11.67"/>
<path d="M262.88 179.35 L265.03 185.86 L267.77 194.13 L270.50 202.42 L273.23 210.74 L275.02 216.20" stroke-width="11.70"/>
<path d="M286.24 250.62 L288.26 256.84 L291.00 265.27 L293.73 273.71 L296.46 282.15 L298.20 287.53" stroke-width="11.70"/>
<path d="M309.34 321.98 L311.49 328.65 L314.23 337.10 L316.96 345.54 L319.69 353.98 L321.29 358.89" stroke-width="11.70"/>
<path d="M332.49 393.31 L334.72 400.17 L337.46 408.52 L340.19 416.85 L342.92 425.16 L344.58 430.18" stroke-width="11.70"/>
<path d="M355.98 464.54 L357.95 470.45 L360.69 478.60 L363.42 486.72 L366.15 494.81 L368.35 501.31" stroke-width="11.69"/>
<path d="M380.09 535.56 L382.56 542.66 L385.30 550.51 L388.05 558.32 L390.79 566.09 L392.94 572.17" stroke-width="11.67"/>
<path d="M405.18 606.24 L407.23 611.86 L409.97 619.34 L412.71 626.78 L415.45 634.17 L418.19 641.51 L418.62 642.64" stroke-width="11.64"/>
<path d="M431.49 676.47 L433.27 681.07 L436.01 688.11 L438.75 695.09 L441.49 702.03 L444.22 708.92 L445.69 712.58" stroke-width="11.60"/>
<path d="M459.37 746.09 L461.99 752.47 L464.70 759.00 L467.40 765.47 L470.10 771.88 L472.80 778.25 L474.35 781.88" stroke-width="11.55"/>
<path d="M488.88 815.04 L490.37 818.35 L493.08 824.32 L495.78 830.24 L498.49 836.11 L501.20 841.92 L503.92 847.67 L505.15 850.26" stroke-width="11.48"/>
<path d="M521.09 882.76 L524.33 889.15 L528.41 897.09 L532.49 904.92 L536.58 912.63 L539.01 917.18" stroke-width="11.36"/>
<path d="M556.60 948.81 L559.70 954.17 L563.77 961.13 L567.85 967.98 L571.93 974.71 L576.01 981.34 L576.49 982.12" stroke-width="11.21"/>
<path d="M596.05 1012.58 L599.00 1016.97 L603.05 1022.92 L607.10 1028.76 L611.15 1034.51 L615.20 1040.16 L618.27 1044.38" stroke-width="11.01"/>
<path d="M640.40 1073.03 L645.02 1078.59 L650.47 1085.02 L655.93 1091.29 L661.39 1097.41 L665.80 1102.35" stroke-width="10.77"/>
<path d="M690.69 1128.64 L694.96 1132.85 L700.33 1138.03 L705.71 1143.06 L711.11 1147.96 L716.50 1152.73 L719.13 1155.01" stroke-width="10.54"/>
<path d="M747.31 1177.72 L752.94 1181.90 L759.69 1186.75 L766.44 1191.45 L773.19 1195.99 L779.15 1199.88" stroke-width="10.35"/>
<path d="M810.16 1218.54 L816.30 1221.91 L823.04 1225.49 L829.78 1228.95 L836.52 1232.29 L843.27 1235.53 L844.70 1236.20" stroke-width="10.54"/>
<path d="M877.94 1250.52 L883.77 1252.78 L890.53 1255.30 L897.30 1257.74 L904.06 1260.09 L910.83 1262.36 L914.48 1263.55" stroke-width="10.78"/>
<path d="M949.22 1273.73 L956.91 1275.73 L965.04 1277.76 L973.18 1279.71 L981.32 1281.57 L986.94 1282.81" stroke-width="11.00"/>
<path d="M1022.48 1289.68 L1030.18 1291.00 L1038.32 1292.34 L1046.47 1293.62 L1054.61 1294.84 L1060.80 1295.73" stroke-width="11.17"/>
<path d="M1096.70 1300.35 L1104.82 1301.28 L1112.96 1302.17 L1121.10 1303.02 L1129.24 1303.83 L1135.29 1304.41" stroke-width="11.28"/>
<path d="M1171.36 1307.50 L1179.44 1308.11 L1187.58 1308.69 L1195.72 1309.25 L1203.86 1309.79 L1210.06 1310.18" stroke-width="11.35"/>
<path d="M1246.21 1312.18 L1254.06 1312.57 L1262.20 1312.94 L1270.34 1313.30 L1278.48 1313.64 L1284.97 1313.89" stroke-width="11.41"/>
<path d="M1321.15 1315.15 L1328.68 1315.39 L1336.82 1315.64 L1344.96 1315.88 L1353.10 1316.10 L1359.93 1316.28" stroke-width="11.44"/>
<path d="M1396.12 1317.11 L1403.31 1317.25 L1411.45 1317.41 L1419.59 1317.55 L1427.73 1317.69 L1434.92 1317.81" stroke-width="11.46"/>
<path d="M1471.11 1318.31 L1477.93 1318.39 L1486.07 1318.49 L1494.22 1318.57 L1502.36 1318.66 L1509.91 1318.73" stroke-width="11.48"/>
<path d="M1546.11 1319.08 L1553.92 1319.15 L1562.06 1319.22 L1570.20 1319.29 L1578.35 1319.35 L1584.91 1319.40" stroke-width="11.48"/>
<path d="M1621.11 1319.64 L1628.55 1319.68 L1636.69 1319.72 L1644.84 1319.77 L1652.98 1319.81 L1659.91 1319.84" stroke-width="11.49"/>
<path d="M1696.11 1320.01 L1703.19 1320.03 L1711.33 1320.07 L1719.47 1320.10 L1727.61 1320.13 L1734.91 1320.15" stroke-width="11.49"/>
<path d="M1771.11 1320.28 L1779.18 1320.30 L1787.32 1320.33 L1795.46 1320.35 L1803.60 1320.37 L1809.91 1320.39" stroke-width="11.49"/>
</g>
</g>
<rect x="1104" y="278" width="89" height="11" fill="#64d214" shape-rendering="crispEdges"/>
<g fill="#ff0000" shape-rendering="crispEdges">
<rect x="1115" y="385" width="17" height="8"/>
<rect x="1139" y="385" width="17" height="8"/>
<rect x="1162" y="385" width="17" height="8"/>
<rect x="1185" y="385" width="17" height="8"/>
</g>
<g fill="#000" font-size="60">
<text transform="translate(1225 290.7) scale(1 1.03)">TiO<tspan font-size="48" dy="29">2</tspan><tspan dy="-29">/Water</tspan></text>
<text transform="translate(1218.5 403.9) scale(1 1.03)">Cu+TiO<tspan font-size="48" dy="29">2</tspan><tspan dy="-29">/Water</tspan></text>
</g>
<rect x="854.3" y="818.5" width="600.3" height="111.6" fill="#fff" stroke="#000" stroke-width="10.6"/>
<text transform="translate(880 889.4) scale(1 1.04)" font-size="60.2" fill="#000" xml:space="preserve">M = 1.0, 4.0, 7.0, 10.0</text>
<g fill="#000" stroke="#000" shape-rendering="crispEdges">
<path d="M436.40 1131.90 L653.37 904.57" stroke-width="11.6" fill="none"/>
<path d="M676.8 879.2 L618.6 907.6 L650.2 907.6 L650.2 939.3 Z" stroke-width="2.6" stroke-linejoin="bevel"/>
</g>
</svg></body></html>
